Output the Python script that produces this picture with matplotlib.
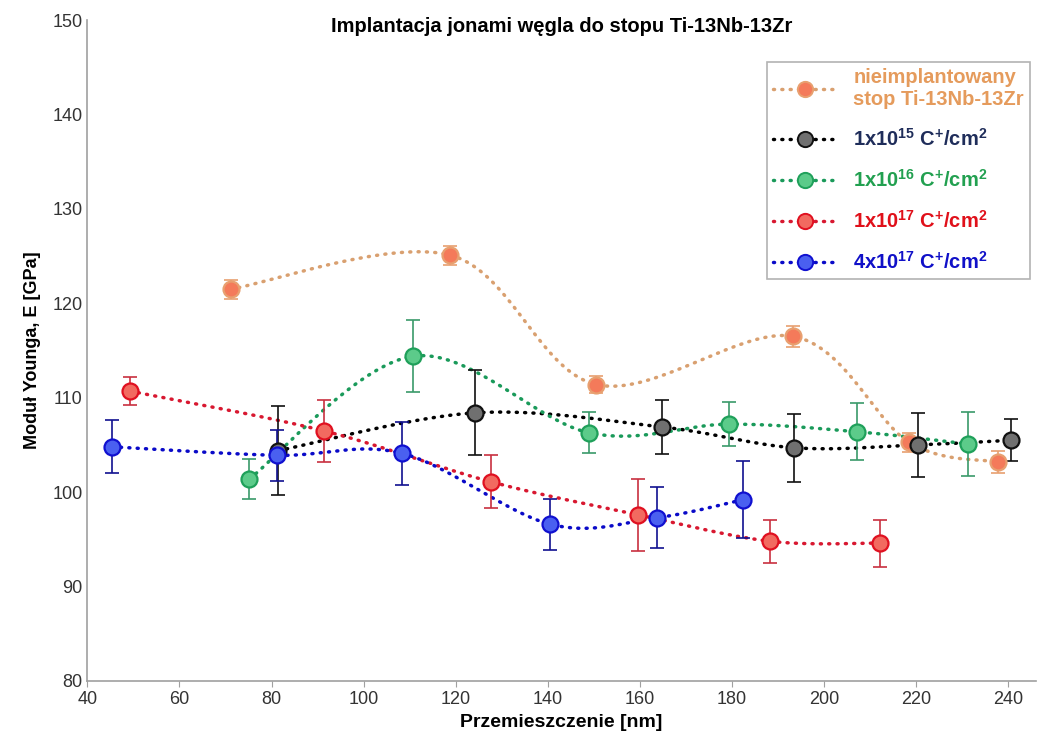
import numpy as np
import matplotlib.pyplot as plt
from matplotlib.lines import Line2D

plt.rcParams['font.family'] = ['Liberation Sans', 'DejaVu Sans']
plt.rcParams['mathtext.fontset'] = 'custom'
plt.rcParams['mathtext.rm'] = 'Liberation Sans:bold'
plt.rcParams['mathtext.bf'] = 'Liberation Sans:bold'
plt.rcParams['mathtext.default'] = 'bf'

# dane
x_nie = [71.1, 118.8, 150.5, 193.3, 218.4, 237.7]
y_nie = [121.5, 125.1, 111.4, 116.5, 105.3, 103.2]
e_nie = [1.0, 1.0, 0.9, 1.1, 1.0, 1.2]

x_15 = [81.5, 124.2, 164.8, 193.5, 220.3, 240.7]
y_15 = [104.4, 108.4, 106.9, 104.7, 105.0, 105.5]
e_15 = [4.7, 4.5, 2.9, 3.6, 3.4, 2.2]

x_16 = [75.2, 110.8, 148.9, 179.3, 207.1, 231.2]
y_16 = [101.4, 114.4, 106.3, 107.2, 106.4, 105.1]
e_16 = [2.1, 3.8, 2.2, 2.3, 3.0, 3.4]

x_17 = [49.3, 91.3, 127.6, 159.6, 188.2, 212.2]
y_17 = [110.7, 106.5, 101.1, 97.6, 94.8, 94.6]
e_17 = [1.5, 3.3, 2.8, 3.8, 2.3, 2.5]

x_4x17 = [45.4, 81.2, 108.4, 140.5, 163.8, 182.4]
y_4x17 = [104.8, 103.9, 104.1, 96.6, 97.3, 99.2]
e_4x17 = [2.8, 2.7, 3.3, 2.7, 3.2, 4.1]


def gladka(xs, ys, n=40):
    # wygladzona linia jak w Excelu (Catmull-Rom)
    p = np.column_stack([xs, ys]).astype(float)
    p = np.vstack([p[0], p, p[-1]])
    out = []
    for i in range(1, len(p) - 2):
        p0, p1, p2, p3 = p[i - 1], p[i], p[i + 1], p[i + 2]
        t = np.linspace(0, 1, n)[:, None]
        c = 0.5 * ((2 * p1) + (-p0 + p2) * t + (2 * p0 - 5 * p1 + 4 * p2 - p3) * t ** 2
                   + (-p0 + 3 * p1 - 3 * p2 + p3) * t ** 3)
        out.append(c)
    c = np.vstack(out)
    return c[:, 0], c[:, 1]


serie = [
    (x_nie, y_nie, e_nie, '#D9A070', '#F47A5A', '#E8A070', '#E8A070',
     'nieimplantowany\nstop Ti-13Nb-13Zr', '#E59B5C'),
    (x_15, y_15, e_15, '#000000', '#707070', '#111111', '#111111',
     r'1x10$^{15}$ C$^{+}$/cm$^{2}$', '#1F2D5A'),
    (x_16, y_16, e_16, '#1A9A5A', '#5CCB8A', '#1FA05A', '#3A9A6A',
     r'1x10$^{16}$ C$^{+}$/cm$^{2}$', '#22A050'),
    (x_17, y_17, e_17, '#D81830', '#F26A60', '#E01020', '#C83040',
     r'1x10$^{17}$ C$^{+}$/cm$^{2}$', '#E0101A'),
    (x_4x17, y_4x17, e_4x17, '#0A0AC8', '#4A60F0', '#1010D0', '#101090',
     r'4x10$^{17}$ C$^{+}$/cm$^{2}$', '#1010C8'),
]

kropki = (0, (0.3, 2.1))

fig = plt.figure(figsize=(10.4, 7.45), dpi=100)
ax = fig.add_axes([0.084, 0.086, 0.912, 0.887])

uchwyty = []
for xs, ys, es, lc, fc, ec, errc, lab, tc in serie:
    sx, sy = gladka(xs, ys)
    ax.plot(sx, sy, color=lc, lw=2.5, linestyle=kropki,
            dash_capstyle='round', zorder=2)
    ax.errorbar(xs, ys, yerr=es, fmt='none', ecolor=errc, elinewidth=1.2,
                capsize=5, capthick=1.2, zorder=3)
    ax.plot(xs, ys, 'o', ms=11.5, mfc=fc, mec=ec, mew=1.6, zorder=4)
    uchwyty.append(Line2D([], [], color=lc, lw=2.5, linestyle=kropki,
                          dash_capstyle='round', marker='o', ms=11, mfc=fc,
                          mec=ec, mew=1.4))

ax.set_xlim(40, 246)
ax.set_ylim(80, 150)
ax.set_xticks(np.arange(40, 241, 20))
ax.set_yticks(np.arange(80, 151, 10))
ax.tick_params(axis='both', labelsize=13, colors='#333333', length=4)
ax.tick_params(axis='y', length=0)
for s in ['top', 'right']:
    ax.spines[s].set_visible(False)
for s in ['left', 'bottom']:
    ax.spines[s].set_color('#A0A0A0')
    ax.spines[s].set_linewidth(1.2)
ax.tick_params(axis='x', color='#A0A0A0')

ax.set_xlabel('Przemieszczenie [nm]', fontsize=14, fontweight='bold', labelpad=4)
ax.set_ylabel('Moduł Younga, E [GPa]', fontsize=13, fontweight='bold', labelpad=8)
fig.text(0.54, 0.965, 'Implantacja jonami węgla do stopu Ti-13Nb-13Zr',
         ha='center', va='center', fontsize=14.5, fontweight='bold')

leg = ax.legend(uchwyty, [s[7] for s in serie], loc='upper right',
                bbox_to_anchor=(0.994, 0.937), borderaxespad=0,
                prop={'size': 14.5, 'weight': 'bold'},
                frameon=True, fancybox=False, edgecolor='#A0A0A0',
                handlelength=3.2, labelspacing=0.95, borderpad=0.3,
                labelcolor=[s[8] for s in serie])
leg.get_frame().set_linewidth(1.2)

fig.savefig('out.png', dpi=100)
